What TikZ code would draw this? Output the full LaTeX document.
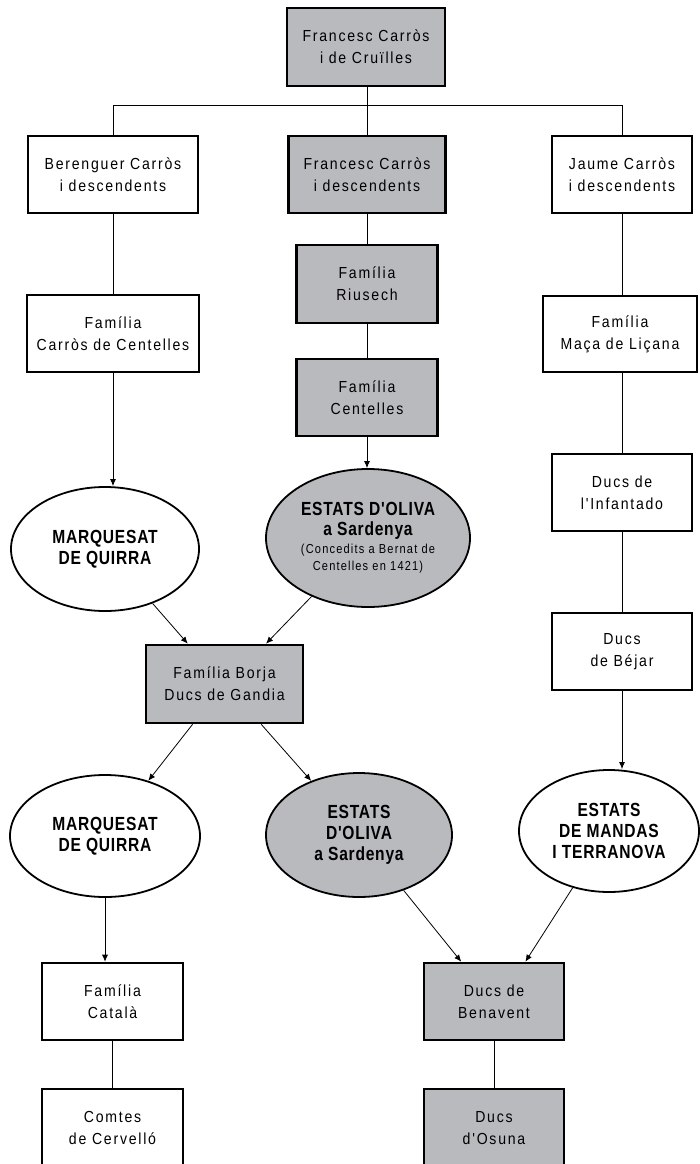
\documentclass[tikz,border=0pt]{standalone}
\usepackage{fontspec}
\usetikzlibrary{arrows.meta,shapes.geometric,calc}
\newfontfamily\boxfont[LetterSpace=11,FakeStretch=0.88]{Liberation Sans}
\newfontfamily\ellfont[LetterSpace=4,FakeStretch=0.82]{Liberation Sans}
\newfontfamily\smfont[LetterSpace=9,FakeStretch=0.85]{Liberation Sans}
\newcommand\smalltxt{\smfont\mdseries\fontsize{13}{17}\selectfont}
\definecolor{boxgray}{RGB}{185,186,190}
\tikzset{
  fam/.style={draw=black, line width=2.6pt, align=center, inner sep=0pt, fill=white,
    font=\boxfont\fontsize{16}{22}\selectfont},
  gfam/.style={fam, fill=boxgray},
  est/.style={ellipse, draw=black, line width=1.8pt, align=center, inner sep=0pt, fill=white,
    font=\ellfont\bfseries\fontsize{19}{21}\selectfont},
  gest/.style={est, fill=boxgray},
  link/.style={draw=black, line width=0.8pt},
  arr/.style={link, -{Latex[length=7pt,width=6pt]}}
}
\begin{document}
\begin{tikzpicture}[x=1pt,y=-1pt]
\useasboundingbox (0,0) rectangle (699,1164);
% boxes
\node[gfam, minimum width=158pt, minimum height=78pt] (top) at (366,47) {Francesc Carròs\\i de Cruïlles};
\node[fam, minimum width=170pt, minimum height=77pt] (ber) at (113,174.5) {Berenguer Carròs\\i descendents};
\node[gfam, minimum width=157pt, minimum height=77pt] (fra) at (367,174.5) {Francesc Carròs\\i descendents};
\node[fam, minimum width=140pt, minimum height=77pt] (jau) at (622,174.5) {Jaume Carròs\\i descendents};
\node[fam, minimum width=172pt, minimum height=77pt] (cdc) at (113,333.5) {Família\\Carròs de Centelles};
\node[gfam, minimum width=141pt, minimum height=78pt] (riu) at (367,284) {Família\\Riusech};
\node[gfam, minimum width=141pt, minimum height=77pt] (cen) at (367,397.5) {Família\\Centelles};
\node[fam, minimum width=154pt, minimum height=76pt] (mac) at (620,334) {Família\\Maça de Liçana};
\node[fam, minimum width=140pt, minimum height=77pt] (inf) at (622,492.5) {Ducs de\\l'Infantado};
\node[fam, minimum width=140pt, minimum height=77pt] (bej) at (622,651.5) {Ducs\\de Béjar};
\node[gfam, minimum width=157pt, minimum height=78pt] (bor) at (224.5,684) {Família Borja\\Ducs de Gandia};
\node[fam, minimum width=141pt, minimum height=77pt] (cat) at (112.5,1001.5) {Família\\Català};
\node[fam, minimum width=141pt, minimum height=78pt] (com) at (112.5,1128) {Comtes\\de Cervelló};
\node[gfam, minimum width=140pt, minimum height=77pt] (ben) at (494,1001.5) {Ducs de\\Benavent};
\node[gfam, minimum width=140pt, minimum height=78pt] (osu) at (494,1128) {Ducs\\d'Osuna};
% ellipses
\node[est, minimum width=188pt, minimum height=124pt] (mq1) at (105,549) {MARQUESAT\\DE QUIRRA};
\node[gest, minimum width=204pt, minimum height=138pt] (ol1) at (368,538)
  {ESTATS D'OLIVA\\[-1pt]a Sardenya\\[-3pt]{\smalltxt (Concedits a Bernat de}\\[-4pt]{\smalltxt Centelles en 1421)}};
\node[est, minimum width=190pt, minimum height=122pt] (mq2) at (105,836) {MARQUESAT\\DE QUIRRA};
\node[gest, minimum width=186pt, minimum height=124pt] (ol2) at (359,835) {ESTATS\\D'OLIVA\\a Sardenya};
\node[est, minimum width=180pt, minimum height=122pt] (man) at (609,831) {ESTATS\\DE MANDAS\\I TERRANOVA};
% helper coordinates
\coordinate (busy) at (0,105);
\coordinate (bt1) at ($(bor.north west)!0.27!(bor.north east)$);
\coordinate (bt2) at ($(bor.north west)!0.76!(bor.north east)$);
\coordinate (bb1) at ($(bor.south west)!0.30!(bor.south east)$);
\coordinate (bb2) at ($(bor.south west)!0.73!(bor.south east)$);
\coordinate (nt1) at ($(ben.north west)!0.27!(ben.north east)$);
\coordinate (nt2) at ($(ben.north west)!0.72!(ben.north east)$);
% plain links
\draw[link] (fra.north) -- (fra.north |- top.south);
\draw[link] (ber.north) -- (ber.north |- busy) -- (jau.north |- busy) -- (jau.north);
\draw[link] (ber.south) -- (cdc.north);
\draw[link] (fra.south) -- (riu.north);
\draw[link] (riu.south) -- (cen.north);
\draw[link] (jau.south) -- (jau.south |- mac.north);
\draw[link] (inf.north) -- (inf.north |- mac.south);
\draw[link] (inf.south) -- (bej.north);
\draw[link] (cat.south) -- (com.north);
\draw[link] (ben.south) -- (osu.north);
% arrows
\draw[arr] (cdc.south) -- (cdc.south |- mq1.north);
\draw[arr] (cen.south) -- (cen.south |- ol1.north);
\draw[arr] (mq1) -- (bt1);
\draw[arr] (ol1) -- (bt2);
\draw[arr] (bb1) -- (mq2);
\draw[arr] (bb2) -- (ol2);
\draw[arr] (bej.south) -- (bej.south |- man.north);
\draw[arr] (mq2.south) -- (mq2.south |- cat.north);
\draw[arr] (ol2) -- (nt1);
\draw[arr] (man) -- (nt2);
\end{tikzpicture}
\end{document}
